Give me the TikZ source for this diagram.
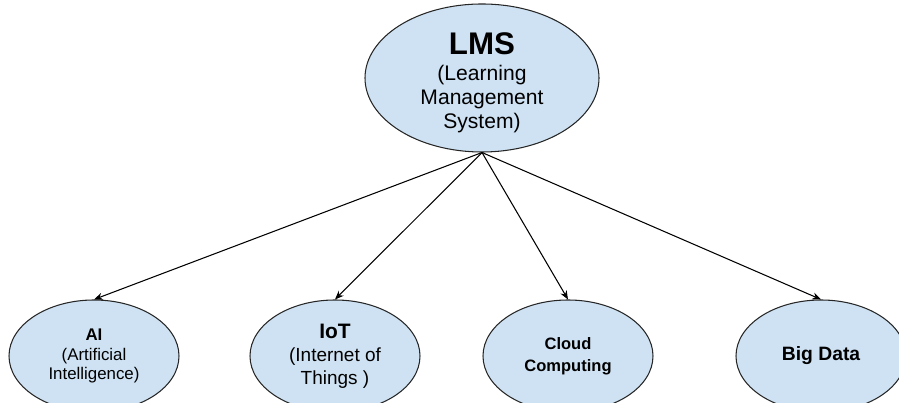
\documentclass[tikz,border=0pt]{standalone}
\usepackage{fontspec}
\setmainfont{Liberation Sans}
\usetikzlibrary{shapes.geometric,arrows.meta}
\definecolor{bubble}{HTML}{CFE2F3}
\begin{document}
\begin{tikzpicture}[
			bubble/.style = {ellipse, draw = black!85, line width = 0.6pt, fill = bubble, inner sep = 0pt, align = center},
			topic/.style = {bubble, minimum width = 3.4cm, minimum height = 2.24cm},
			link/.style = {line width = 0.6pt, -{Stealth[length=5pt,width=4pt]}}]

			\useasboundingbox (0,0) rectangle (17.98,8.06);

			\node[bubble, minimum width = 4.68cm, minimum height = 2.96cm, inner ysep = -8pt,
				font = \fontsize{12}{13.6}\selectfont] (lms) at (9.64,6.50)
				{\rule{0pt}{18pt}{\fontsize{17.8}{18}\selectfont\bfseries LMS}\\[1pt](Learning\\Management\\System)};

			\node[topic, font = \fontsize{9.6}{11.3}\selectfont] (ai) at (1.88,0.94)
				{{\bfseries AI}\\(Artificial\\Intelligence)};
			\node[topic, font = \fontsize{10.8}{13}\selectfont] (iot) at (6.70,0.94)
				{{\fontsize{11.9}{13}\selectfont\bfseries IoT}\\(Internet of\\Things )};
			\node[topic, font = \fontsize{9.4}{12.3}\selectfont\bfseries] (cloud) at (11.36,0.94)
				{Cloud\\Computing};
			\node[topic, font = \fontsize{11}{13}\selectfont\bfseries] (bigdata) at (16.42,0.94)
				{Big Data};

			\foreach \t in {ai,iot,cloud,bigdata}
				\draw[link] (lms.south) -- (\t.north);

		\end{tikzpicture}
\end{document}
